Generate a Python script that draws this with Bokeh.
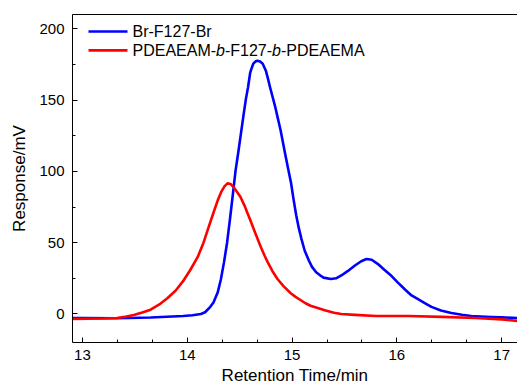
from bokeh.plotting import figure
from bokeh.models import Range1d, SingleIntervalTicker, LinearAxis, FixedTicker, Label
from bokeh.embed import file_html
from bokeh.resources import INLINE

# ---- data ----
blue_time = [12.905, 13.0, 13.33, 13.65, 13.96, 14.05, 14.13, 14.17, 14.22, 14.25, 14.29,
             14.32, 14.35, 14.38, 14.41, 14.44, 14.46, 14.49, 14.515, 14.54, 14.56, 14.58,
             14.60, 14.615, 14.63, 14.65, 14.67, 14.695, 14.72, 14.75, 14.77, 14.79, 14.815,
             14.84, 14.865, 14.89, 14.915, 14.94, 14.965, 14.99, 15.015, 15.04, 15.065, 15.09,
             15.12, 15.16, 15.19, 15.23, 15.27, 15.30, 15.37, 15.42, 15.47, 15.53, 15.60,
             15.66, 15.71, 15.76, 15.82, 15.88, 15.95, 16.01, 16.08, 16.14, 16.21, 16.27,
             16.33, 16.42, 16.52, 16.62, 16.71, 16.80, 16.90, 17.0, 17.15]
blue_resp = [-2.8, -2.8, -3.0, -2.5, -1.4, -0.9, 0.0, 1.2, 5.0, 8.0, 15.0,
             24.0, 36.0, 50.0, 68.0, 87.0, 100.0, 115.0, 128.0, 141.0, 151.0, 159.0,
             169.0, 172.5, 175.5, 177.0, 177.6, 177.0, 175.5, 170.6, 165.0, 159.0, 152.0,
             145.0, 137.0, 129.0, 119.5, 110.0, 101.0, 92.0, 80.0, 69.0, 60.0, 52.5,
             44.5, 37.5, 33.0, 29.3, 27.0, 25.5, 24.5, 25.0, 27.0, 30.0, 34.0,
             37.0, 38.5, 38.0, 35.0, 31.0, 26.6, 22.0, 17.0, 13.0, 10.0, 7.5,
             5.0, 2.5, 0.7, -0.5, -1.4, -1.8, -2.1, -2.4, -2.8]

red_time = [12.905, 13.2, 13.33, 13.42, 13.49, 13.57, 13.65, 13.73, 13.81, 13.89, 13.96,
            14.03, 14.10, 14.155, 14.20, 14.25, 14.29, 14.327, 14.355, 14.384, 14.413, 14.441,
            14.47, 14.508, 14.546, 14.575, 14.603, 14.632, 14.661, 14.699, 14.737, 14.766, 14.813,
            14.861, 14.918, 14.985, 15.033, 15.08, 15.128, 15.176, 15.252, 15.319, 15.40, 15.47,
            15.60, 15.80, 16.11, 16.43, 16.75, 17.0, 17.15]
red_resp = [-3.5, -3.2, -2.8, -1.8, -0.7, 1.0, 3.0, 6.5, 11.0, 16.5, 23.0,
            31.0, 40.0, 50.0, 60.0, 71.0, 79.5, 86.0, 89.5, 91.6, 91.2, 89.0,
            86.0, 82.0, 76.0, 70.6, 65.5, 60.0, 54.5, 47.5, 41.0, 36.5, 30.0,
            24.5, 19.5, 14.7, 12.0, 9.8, 7.5, 5.8, 4.0, 2.5, 0.8, 0.0,
            -0.6, -1.4, -1.4, -2.0, -2.8, -3.8, -4.9]

series_names = ["Br-F127-Br", "PDEAEAM-b-F127-b-PDEAEMA"]
series_colors = ["#0000FF", "#FF0000"]
x_label = "Retention Time/min"
y_label = "Response/mV"

X_START, X_END = 12.905, 17.151
Y_START, Y_END = -20, 210

FONT = "Liberation Sans"
W, H = 517, 387
MB_LEFT, MB_RIGHT, MB_TOP, MB_BOTTOM = 72, 0, 14, 44
FRAME_W = W - MB_LEFT - MB_RIGHT
FRAME_H = H - MB_TOP - MB_BOTTOM

p = figure(width=W, height=H, output_backend="svg", toolbar_location=None,
           x_range=Range1d(X_START, X_END), y_range=Range1d(Y_START, Y_END),
           min_border_left=MB_LEFT, min_border_right=MB_RIGHT,
           min_border_top=MB_TOP, min_border_bottom=MB_BOTTOM,
           x_axis_label=x_label, y_axis_label=y_label)
p.grid.visible = False
p.outline_line_color = None
p.background_fill_color = "white"
p.border_fill_color = "white"

p.xaxis.ticker = SingleIntervalTicker(interval=1, num_minor_ticks=3)
p.yaxis.ticker = SingleIntervalTicker(interval=50, num_minor_ticks=2)
for ax in (p.xaxis[0], p.yaxis[0]):
    ax.axis_line_color = "black"
    ax.axis_line_width = 1
    ax.major_tick_in = 5
    ax.major_tick_out = 0
    ax.minor_tick_in = 3
    ax.minor_tick_out = 0
    ax.major_tick_line_color = "black"
    ax.minor_tick_line_color = "black"
    ax.major_label_text_font = FONT
    ax.major_label_text_font_size = "15px"
    ax.major_label_text_color = "black"
    ax.axis_label_text_font = FONT
    ax.axis_label_text_font_size = "17px"
    ax.axis_label_text_font_style = "normal"
    ax.axis_label_text_color = "black"
p.xaxis.major_label_standoff = 7
p.xaxis.axis_label_standoff = 3
p.yaxis.major_label_standoff = 8
p.yaxis.axis_label_standoff = 7

top = LinearAxis(ticker=FixedTicker(ticks=[]), major_tick_in=0, major_tick_out=0,
                 minor_tick_in=0, minor_tick_out=0, major_label_text_font_size="0px",
                 major_label_standoff=0, axis_line_color="black")
p.add_layout(top, "above")

p.line(blue_time, blue_resp, line_color=series_colors[0], line_width=2.6, line_join="round")
p.line(red_time, red_resp, line_color=series_colors[1], line_width=2.6, line_join="round")

# ---- custom legend (allows italic "b") ----
def px_x(dx):
    return X_START + dx * (X_END - X_START) / FRAME_W

def px_y(dy):
    return Y_END - dy * (Y_END - Y_START) / FRAME_H

ADV = {'P': 667, 'D': 722, 'E': 667, 'A': 667, 'M': 833, '-': 333, 'F': 611,
       '1': 556, '2': 556, '7': 556, 'b': 556, 'B': 667, 'r': 333}
LEG_FS = 16

def text_w(s):
    return sum(ADV.get(c, 556) for c in s) * LEG_FS / 1000.0

rows_dy = [17, 36]
line_x0, line_x1, text_x = 16, 55, 60
for name, color, dy in zip(series_names, series_colors, rows_dy):
    p.segment(x0=[px_x(line_x0)], y0=[px_y(dy)], x1=[px_x(line_x1)], y1=[px_y(dy)],
              line_color=color, line_width=2.6)
    pieces = []
    if "-b-" in name:
        parts = name.split("-b-")
        for i, part in enumerate(parts):
            if i > 0:
                pieces.append(("-", "normal"))
                pieces.append(("b", "italic"))
                pieces.append(("-" + part, "normal"))
            else:
                pieces.append((part, "normal"))
    else:
        pieces = [(name, "normal")]
    cx = text_x
    for txt, style in pieces:
        p.add_layout(Label(x=px_x(cx), y=px_y(dy), text=txt, text_font=FONT,
                           text_font_size=f"{LEG_FS}px", text_font_style=style,
                           text_color="black", text_baseline="middle", text_align="left"))
        cx += text_w(txt)

open("out.html", "w").write(file_html(p, INLINE))
